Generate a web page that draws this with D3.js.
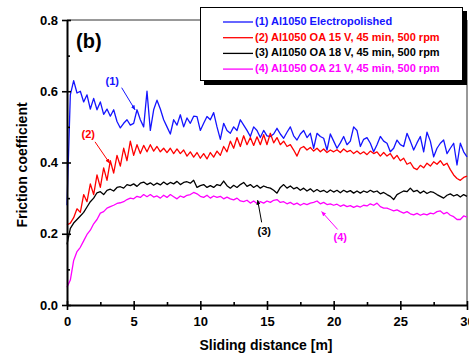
<!DOCTYPE html>
<html>
<head>
<meta charset="utf-8">
<script src="https://cdn.jsdelivr.net/npm/d3@7"></script>
<style>
  html, body { margin: 0; padding: 0; background: #fff; }
  svg { display: block; font-family: Arial, "Liberation Sans", sans-serif; }
</style>
</head>
<body>
<svg id="chart" width="469" height="353"></svg>
<script>
// Sliding distance sampled every 0.25 m from 0 to 30 m
const distance = d3.range(0, 121).map(i => i * 0.25);

// (1) Al1050 Electropolished
const electropolished = [
  0.28, 0.59, 0.63, 0.595, 0.60, 0.57, 0.59, 0.55, 0.58, 0.548,
  0.57, 0.535, 0.55, 0.53, 0.548, 0.515, 0.497, 0.51, 0.52, 0.505,
  0.51, 0.548, 0.52, 0.50, 0.60, 0.49, 0.548, 0.575, 0.55, 0.52,
  0.50, 0.48, 0.52, 0.505, 0.534, 0.50, 0.525, 0.51, 0.53, 0.529,
  0.49, 0.51, 0.529, 0.52, 0.54, 0.50, 0.465, 0.51, 0.49, 0.482,
  0.50, 0.49, 0.52, 0.505, 0.49, 0.473, 0.50, 0.49, 0.47, 0.49,
  0.475, 0.473, 0.48, 0.496, 0.48, 0.468, 0.485, 0.50, 0.475, 0.463,
  0.48, 0.49, 0.47, 0.482, 0.44, 0.482, 0.473, 0.468, 0.435, 0.48,
  0.46, 0.44, 0.455, 0.473, 0.45, 0.46, 0.50, 0.49, 0.445, 0.465,
  0.47, 0.454, 0.43, 0.45, 0.473, 0.46, 0.454, 0.43, 0.44, 0.463,
  0.45, 0.445, 0.482, 0.46, 0.435, 0.455, 0.473, 0.43, 0.485, 0.46,
  0.416, 0.44, 0.454, 0.463, 0.425, 0.44, 0.454, 0.393, 0.454, 0.43,
  0.416
];

// (2) Al1050 OA 15 V, 45 min, 500 rpm
const oa15 = [
  0.225, 0.23, 0.245, 0.27, 0.26, 0.31, 0.29, 0.34, 0.31, 0.365,
  0.33, 0.385, 0.35, 0.405, 0.37, 0.42, 0.39, 0.44, 0.405, 0.46,
  0.42, 0.45, 0.425, 0.448, 0.43, 0.45, 0.432, 0.445, 0.43, 0.44,
  0.428, 0.44, 0.425, 0.438, 0.425, 0.435, 0.418, 0.43, 0.415, 0.428,
  0.412, 0.425, 0.41, 0.428, 0.415, 0.432, 0.42, 0.445, 0.43, 0.46,
  0.44, 0.47, 0.445, 0.475, 0.45, 0.47, 0.448, 0.472, 0.45, 0.478,
  0.45, 0.482, 0.455, 0.47, 0.45, 0.46, 0.445, 0.45, 0.435, 0.418,
  0.44, 0.445, 0.435, 0.442, 0.432, 0.44, 0.43, 0.438, 0.428, 0.435,
  0.43, 0.436, 0.428, 0.438, 0.43, 0.434, 0.425, 0.432, 0.424, 0.43,
  0.422, 0.432, 0.425, 0.43, 0.418, 0.428, 0.418, 0.425, 0.41, 0.42,
  0.405, 0.412, 0.395, 0.40, 0.385, 0.38, 0.392, 0.385, 0.398, 0.39,
  0.402, 0.395, 0.405, 0.392, 0.398, 0.38, 0.365, 0.355, 0.35, 0.358,
  0.362
];

// (3) Al1050 OA 18 V, 45 min, 500 rpm
const oa18 = [
  0.17, 0.215, 0.23, 0.24, 0.25, 0.26, 0.275, 0.29, 0.30, 0.315,
  0.318, 0.31, 0.322, 0.325, 0.32, 0.33, 0.332, 0.328, 0.338, 0.335,
  0.34, 0.333, 0.342, 0.345, 0.338, 0.343, 0.336, 0.342, 0.337, 0.345,
  0.338, 0.344, 0.34, 0.347, 0.338, 0.344, 0.346, 0.342, 0.35, 0.33,
  0.335, 0.338, 0.33, 0.335, 0.33, 0.338, 0.335, 0.348, 0.335, 0.328,
  0.336, 0.33, 0.338, 0.344, 0.333, 0.338, 0.33, 0.336, 0.328, 0.334,
  0.33, 0.328, 0.322, 0.314, 0.33, 0.338, 0.328, 0.334, 0.326, 0.33,
  0.322, 0.328, 0.32, 0.326, 0.318, 0.324, 0.318, 0.322, 0.316, 0.323,
  0.317, 0.322, 0.315, 0.322, 0.317, 0.321, 0.314, 0.32, 0.314, 0.32,
  0.316, 0.322, 0.317, 0.32, 0.312, 0.316, 0.31, 0.305, 0.296, 0.31,
  0.315, 0.32, 0.318, 0.328, 0.318, 0.322, 0.314, 0.32, 0.313, 0.318,
  0.316, 0.31, 0.305, 0.30, 0.308, 0.312, 0.306, 0.31, 0.303, 0.31,
  0.305
];

// (4) Al1050 OA 21 V, 45 min, 500 rpm
const oa21 = [
  0.05, 0.07, 0.125, 0.15, 0.162, 0.18, 0.198, 0.21, 0.228, 0.24,
  0.258, 0.262, 0.272, 0.276, 0.28, 0.285, 0.287, 0.29, 0.296, 0.30,
  0.298, 0.305, 0.302, 0.31, 0.304, 0.31, 0.303, 0.306, 0.30, 0.308,
  0.302, 0.31, 0.304, 0.298, 0.306, 0.302, 0.308, 0.31, 0.316, 0.312,
  0.305, 0.302, 0.308, 0.30, 0.306, 0.302, 0.305, 0.298, 0.303, 0.298,
  0.295, 0.30, 0.292, 0.29, 0.294, 0.286, 0.292, 0.285, 0.29, 0.286,
  0.292, 0.288, 0.294, 0.296, 0.288, 0.29, 0.284, 0.288, 0.282, 0.286,
  0.28, 0.285, 0.282, 0.286, 0.288, 0.292, 0.284, 0.288, 0.282, 0.284,
  0.28, 0.283, 0.277, 0.281, 0.276, 0.279, 0.274, 0.278, 0.275, 0.28,
  0.278, 0.284, 0.28, 0.286, 0.276, 0.272, 0.272, 0.268, 0.264, 0.267,
  0.262, 0.258, 0.262, 0.256, 0.253, 0.257, 0.252, 0.256, 0.253, 0.258,
  0.256, 0.262, 0.264, 0.256, 0.26, 0.252, 0.248, 0.24, 0.24, 0.25,
  0.247
];

const seriesLabels = [
  "(1) Al1050 Electropolished",
  "(2) Al1050 OA 15 V, 45 min, 500 rpm",
  "(3) Al1050 OA 18 V, 45 min, 500 rpm",
  "(4) Al1050 OA 21 V, 45 min, 500 rpm"
];
const seriesColors = ["#1414ff", "#ff0000", "#000000", "#ff00ff"];
const seriesValues = [electropolished, oa15, oa18, oa21];

const xTicks = [0, 5, 10, 15, 20, 25, 30];
const yTicks = [0.0, 0.2, 0.4, 0.6, 0.8];

// Curve callouts: label, colour, label position (data units), leader line start/end (data units)
const callouts = [
  { text: "(1)", color: "#1414ff", at: [3.4, 0.627], from: [4.1, 0.610], to: [5.1, 0.548] },
  { text: "(2)", color: "#ff0000", at: [1.6, 0.478], from: [2.1, 0.458], to: [3.2, 0.398] },
  { text: "(3)", color: "#000000", at: [14.8, 0.205], from: [14.6, 0.232], to: [14.3, 0.294] },
  { text: "(4)", color: "#ff00ff", at: [20.5, 0.188], from: [20.3, 0.212], to: [19.1, 0.262] }
];

const svg = d3.select("#chart");
const margin = { left: 67, right: 2, top: 20, bottom: 48 };
const W = 469, H = 353;

const x = d3.scaleLinear().domain([0, 30]).range([margin.left, W - margin.right]);
const y = d3.scaleLinear().domain([0, 0.8]).range([H - margin.bottom, margin.top]);

// frame (top and right)
svg.append("line").attr("x1", x(0)).attr("x2", x(30)).attr("y1", y(0.8)).attr("y2", y(0.8))
  .attr("stroke", "#333").attr("stroke-width", 1);
svg.append("line").attr("x1", x(30)).attr("x2", x(30)).attr("y1", y(0.8)).attr("y2", y(0))
  .attr("stroke", "#333").attr("stroke-width", 1);

// data lines
const line = d3.line().x((d, i) => x(distance[i])).y(d => y(d));
const order = [0, 1, 2, 3];
svg.append("g").selectAll("path").data(order).join("path")
  .attr("d", k => line(seriesValues[k]))
  .attr("fill", "none")
  .attr("stroke", k => seriesColors[k])
  .attr("stroke-width", 1.3)
  .attr("stroke-linejoin", "round");

// axes
const xAxis = svg.append("g").attr("transform", `translate(0,${y(0)})`)
  .call(d3.axisBottom(x).tickValues(xTicks).tickFormat(d3.format("d")).tickSize(4).tickSizeOuter(0));
const xMinor = svg.append("g").attr("transform", `translate(0,${y(0)})`)
  .call(d3.axisBottom(x).tickValues(d3.range(2.5, 30, 5)).tickFormat("").tickSize(-3).tickSizeOuter(0));
const yAxis = svg.append("g").attr("transform", `translate(${x(0)},0)`)
  .call(d3.axisLeft(y).tickValues(yTicks).tickFormat(d3.format(".1f")).tickSize(4).tickSizeOuter(0));
const yMinor = svg.append("g").attr("transform", `translate(${x(0)},0)`)
  .call(d3.axisLeft(y).tickValues([0.1, 0.3, 0.5, 0.7]).tickFormat("").tickSize(-3).tickSizeOuter(0));

// major ticks cross the axis line
xAxis.selectAll(".tick line").attr("y1", -4).attr("y2", 5);
yAxis.selectAll(".tick line").attr("x1", 4).attr("x2", -5);
[xAxis, yAxis, xMinor, yMinor].forEach(g => {
  g.select(".domain").attr("stroke", "#000").attr("stroke-width", 2);
  g.selectAll(".tick line").attr("stroke", "#000").attr("stroke-width", 1.6);
});
xMinor.select(".domain").remove();
yMinor.select(".domain").remove();
xAxis.selectAll("text").attr("font-size", 13).attr("font-weight", "bold").attr("fill", "#000")
  .attr("font-family", "Arial, 'Liberation Sans', sans-serif").attr("dy", "1.05em");
yAxis.selectAll("text").attr("font-size", 13).attr("font-weight", "bold").attr("fill", "#000")
  .attr("font-family", "Arial, 'Liberation Sans', sans-serif").attr("dx", "-0.15em");

// axis titles
svg.append("text").attr("x", 266).attr("y", 350).attr("text-anchor", "middle")
  .attr("font-size", 14).attr("font-weight", "bold").text("Sliding distance [m]");
svg.append("text").attr("transform", `translate(27,165) rotate(-90)`).attr("text-anchor", "middle")
  .attr("font-size", 14).attr("font-weight", "bold").text("Friction coefficient");

// panel tag
svg.append("text").attr("x", 76).attr("y", 48).attr("font-size", 20).attr("font-weight", "bold").text("(b)");

// callouts
const defs = svg.append("defs");
callouts.forEach((c, i) => {
  defs.append("marker").attr("id", "arr" + i).attr("viewBox", "0 0 10 10").attr("refX", 9).attr("refY", 5)
    .attr("markerWidth", 5).attr("markerHeight", 5).attr("orient", "auto")
    .append("path").attr("d", "M0,1 L10,5 L0,9 Z").attr("fill", c.color);
  svg.append("line")
    .attr("x1", x(c.from[0])).attr("y1", y(c.from[1]))
    .attr("x2", x(c.to[0])).attr("y2", y(c.to[1]))
    .attr("stroke", c.color).attr("stroke-width", 1)
    .attr("marker-end", `url(#arr${i})`);
  svg.append("text").attr("x", x(c.at[0])).attr("y", y(c.at[1])).attr("text-anchor", "middle")
    .attr("dominant-baseline", "middle")
    .attr("font-size", 11).attr("font-weight", "bold").attr("fill", c.color).text(c.text);
});

// legend
const lg = svg.append("g");
lg.append("rect").attr("x", 204).attr("y", 11).attr("width", 263).attr("height", 74).attr("fill", "#000");
lg.append("rect").attr("x", 200.5).attr("y", 7.5).attr("width", 262).attr("height", 73)
  .attr("fill", "#fff").attr("stroke", "#000").attr("stroke-width", 1);
seriesLabels.forEach((t, i) => {
  const yy = 22 + i * 15.7;
  lg.append("line").attr("x1", 223).attr("x2", 253).attr("y1", yy).attr("y2", yy)
    .attr("stroke", seriesColors[i]).attr("stroke-width", 1.3);
  lg.append("text").attr("x", 255).attr("y", yy).attr("dominant-baseline", "middle")
    .attr("font-size", 11).attr("font-weight", "bold").attr("fill", seriesColors[i]).text(t);
});
</script>
</body>
</html>
